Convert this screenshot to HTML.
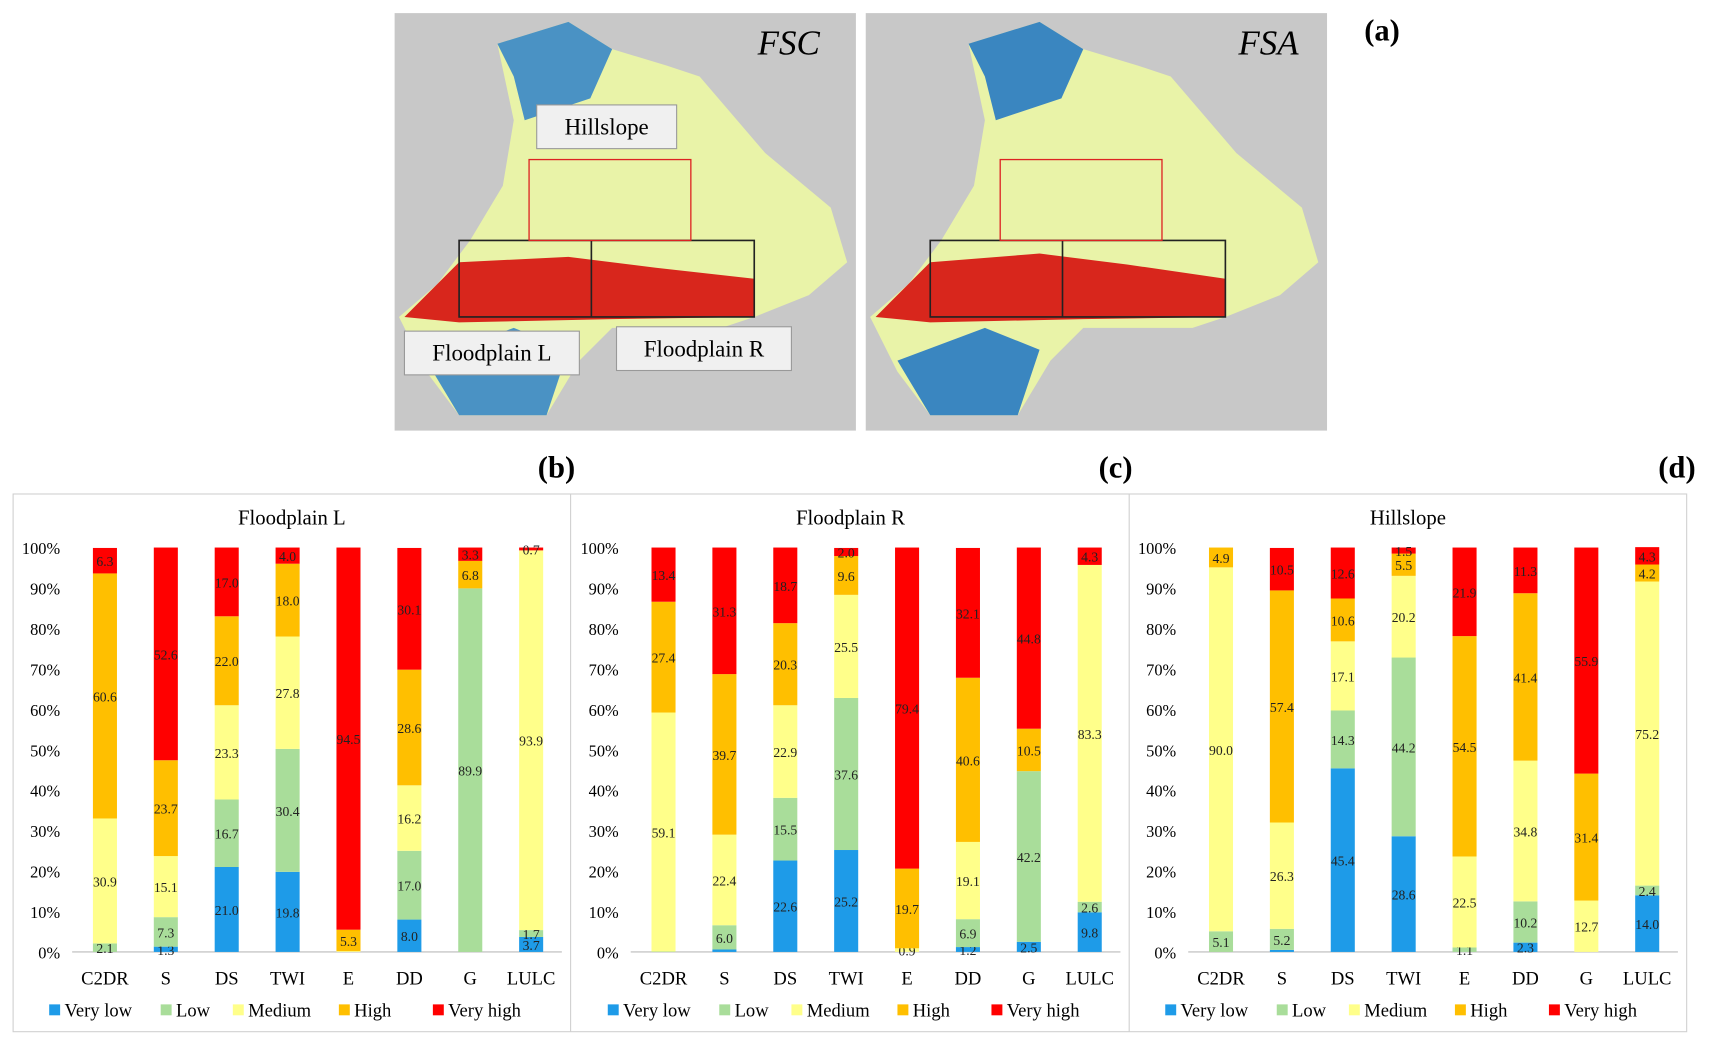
<!DOCTYPE html>
<html><head><meta charset="utf-8">
<style>
body{margin:0;background:#fff;width:1714px;height:1047px;overflow:hidden;font-family:"Liberation Serif",serif}
svg{position:absolute;left:0;top:0}
</style></head>
<body>
<svg id="s" width="1714" height="1047" viewBox="0 0 1568 958" preserveAspectRatio="none" xmlns="http://www.w3.org/2000/svg">
<g>
<rect x="361" y="12" width="422" height="382" fill="#c8c8c8"/>
<path d="M455,40 L520,20 L560,45 L610,60 L640,70 L700,140 L760,190 L775,240 L740,270 L690,290 L660,300 L560,300 L530,330 L500,380 L420,380 L390,340 L365,290 L400,260 L430,220 L460,170 L470,110 Z" fill="#e9f3a8"/>
<path d="M455,40 L520,20 L560,45 L540,90 L480,110 L470,70 Z" fill="#4a92c4"/>
<path d="M390,330 L470,300 L520,320 L500,380 L420,380 Z" fill="#4a92c4"/>
<path d="M420,240 L520,235 L600,245 L690,255 L690,290 L560,292 L420,295 L370,290 Z" fill="#d8261c"/>
<rect x="420" y="220" width="270" height="70" fill="none" stroke="#222" stroke-width="1.5"/>
<line x1="541" y1="220" x2="541" y2="290" stroke="#222" stroke-width="1.5"/>
<rect x="484" y="146" width="148" height="74" fill="none" stroke="#d22" stroke-width="1.2"/>
<rect x="491" y="96" width="128" height="40" fill="#f0f0f0" stroke="#999"/>
<text x="555" y="123" font-size="21" text-anchor="middle">Hillslope</text>
<rect x="370" y="303" width="160" height="40" fill="#f0f0f0" stroke="#999"/>
<text x="450" y="330" font-size="21" text-anchor="middle">Floodplain L</text>
<rect x="564" y="299" width="160" height="40" fill="#f0f0f0" stroke="#999"/>
<text x="644" y="326" font-size="21" text-anchor="middle">Floodplain R</text>
<text x="750" y="50" font-size="32" font-style="italic" text-anchor="end">FSC</text>
</g>
<g>
<rect x="792" y="12" width="422" height="382" fill="#c8c8c8"/>
<path d="M886,40 L951,20 L991,45 L1041,60 L1071,70 L1131,140 L1191,190 L1206,240 L1171,270 L1121,290 L1091,300 L991,300 L961,330 L931,380 L851,380 L821,340 L796,290 L831,260 L861,220 L891,170 L901,110 Z" fill="#e9f3a8"/>
<path d="M886,40 L951,20 L991,45 L971,90 L911,110 L901,70 Z" fill="#3a86c0"/>
<path d="M821,330 L901,300 L951,320 L931,380 L851,380 Z" fill="#3a86c0"/>
<path d="M851,240 L951,232 L1031,242 L1121,255 L1121,290 L991,292 L851,295 L801,290 Z" fill="#d8261c"/>
<rect x="851" y="220" width="270" height="70" fill="none" stroke="#222" stroke-width="1.5"/>
<line x1="972" y1="220" x2="972" y2="290" stroke="#222" stroke-width="1.5"/>
<rect x="915" y="146" width="148" height="74" fill="none" stroke="#d22" stroke-width="1.2"/>
<text x="1188" y="50" font-size="32" font-style="italic" text-anchor="end">FSA</text>
</g>
<text x="1248" y="37" font-size="28" font-weight="bold">(a)</text>
<text x="492" y="437" font-size="28" font-weight="bold">(b)</text>
<text x="1005" y="437" font-size="28" font-weight="bold">(c)</text>
<text x="1517" y="437" font-size="28" font-weight="bold">(d)</text>
<rect x="12" y="452" width="1531" height="492" fill="none" stroke="#d0d0d0"/>
<line x1="522" y1="452" x2="522" y2="944" stroke="#d0d0d0"/>
<line x1="1033" y1="452" x2="1033" y2="944" stroke="#d0d0d0"/>
<g id="charts"></g>
</svg>
<script>
const categories=["C2DR","S","DS","TWI","E","DD","G","LULC"];
const levels=["Very low","Low","Medium","High","Very high"];
const panelTitles=["Floodplain L","Floodplain R","Hillslope"];
const flVeryLow=[0,1.3,21.0,19.8,0,8.0,0,3.7];
const flLow=[2.1,7.3,16.7,30.4,0,17.0,89.9,1.7];
const flMedium=[30.9,15.1,23.3,27.8,0.2,16.2,0,93.9];
const flHigh=[60.6,23.7,22.0,18.0,5.3,28.6,6.8,0];
const flVeryHigh=[6.3,52.6,17.0,4.0,94.5,30.1,3.3,0.7];
const frVeryLow=[0,0.6,22.6,25.2,0,1.2,2.5,9.8];
const frLow=[0.1,6.0,15.5,37.6,0,6.9,42.2,2.6];
const frMedium=[59.1,22.4,22.9,25.5,0.9,19.1,0,83.3];
const frHigh=[27.4,39.7,20.3,9.6,19.7,40.6,10.5,0];
const frVeryHigh=[13.4,31.3,18.7,2.0,79.4,32.1,44.8,4.3];
const hsVeryLow=[0,0.5,45.4,28.6,0,2.3,0,14.0];
const hsLow=[5.1,5.2,14.3,44.2,1.1,10.2,0,2.4];
const hsMedium=[90.0,26.3,17.1,20.2,22.5,34.8,12.7,75.2];
const hsHigh=[4.9,57.4,10.6,5.5,54.5,41.4,31.4,4.2];
const hsVeryHigh=[0,10.5,12.6,1.5,21.9,11.3,55.9,4.3];
const yTicks=[0,10,20,30,40,50,60,70,80,90,100];
const panelData=[[flVeryLow,flLow,flMedium,flHigh,flVeryHigh],[frVeryLow,frLow,frMedium,frHigh,frVeryHigh],[hsVeryLow,hsLow,hsMedium,hsHigh,hsVeryHigh]];
const colors=["#1e9be8","#a9dd9a","#ffff8a","#ffbf00","#ff0000"];
const NS="http://www.w3.org/2000/svg";
const root=document.getElementById("charts");
function mk(tag,attrs,parent){const e=document.createElementNS(NS,tag);for(const k in attrs)e.setAttribute(k,attrs[k]);(parent||root).appendChild(e);return e;}
const y=v=>871-v*3.7;
panelData.forEach((series,p)=>{
  const off=[0,511,1021][p];
  const xc=i=>off+96+i*55.7;
  const g=mk("g",{});
  
  
  const t=mk("text",{x:off+267,y:480,"font-size":19,"text-anchor":"middle"},g);t.textContent=panelTitles[p];
  
  
  yTicks.forEach(v=>{const tt=mk("text",{x:off+55,y:y(v)+6,"font-size":15,"text-anchor":"end"},g);tt.textContent=v+"%";
    
    });
  mk("line",{x1:off+66,x2:off+514,y1:871,y2:871,stroke:"#bbb"},g);
  categories.forEach((c,i)=>{
    let cum=0;
    series.forEach((arr,k)=>{
      const v=arr[i];
      const r=mk("rect",{x:xc(i)-11,y:y(cum+v),width:22,height:v*3.7,fill:colors[k]},g);
      
      
      if(v>=0.7){const lt=mk("text",{x:xc(i),y:y(cum+v/2)+5,"font-size":12.5,"text-anchor":"middle",fill:"#222"},g);lt.textContent=v.toFixed(1);
        
        }
      cum+=v;
    });
    const xl=mk("text",{x:xc(i),y:901,"font-size":17,"text-anchor":"middle"},g);xl.textContent=c;
    
    
  });
  const lx=[off+45,off+147,off+213,off+310,off+396];
  levels.forEach((l,k)=>{
    const lg=mk("g",{},g);
    
    
    mk("rect",{x:lx[k],y:919,width:10,height:10,fill:colors[k]},lg);
    const lt=mk("text",{x:lx[k]+14,y:930,"font-size":17},lg);lt.textContent=l;
  });
});
</script>
</body></html>
